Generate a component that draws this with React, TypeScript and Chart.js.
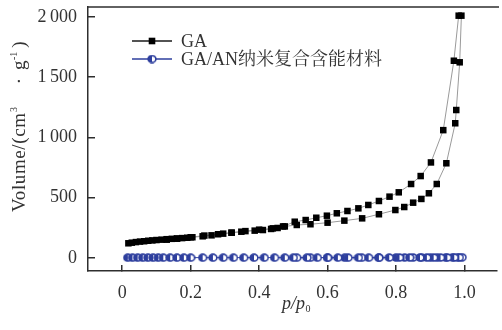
import { useEffect, useRef } from "react";
import { Chart, registerables } from "chart.js";

Chart.register(...registerables);

const seriesNames = ["GA", "GA/AN纳米复合含能材料"];

// GA adsorption branch (p/p0, volume)
const adsX = [0.018, 0.028, 0.04, 0.052, 0.064, 0.076, 0.088, 0.1, 0.115, 0.13, 0.145, 0.16, 0.175, 0.19, 0.205, 0.235, 0.261, 0.295, 0.319, 0.348, 0.387, 0.411, 0.435, 0.454, 0.475, 0.51, 0.55, 0.6, 0.649, 0.701, 0.75, 0.798, 0.824, 0.85, 0.874, 0.896, 0.919, 0.947, 0.973, 0.976, 0.986, 0.991];
const adsY = [122, 127, 132, 136, 139, 143, 146, 149, 152, 156, 159, 162, 165, 168, 172, 180, 188, 202, 210, 218, 227, 232, 241, 249, 262, 274, 280, 293, 310, 329, 363, 398, 423, 459, 490, 537, 614, 786, 1118, 1228, 1624, 2011];

// GA desorption branch
const desX = [0.983, 0.969, 0.938, 0.902, 0.872, 0.844, 0.808, 0.781, 0.75, 0.719, 0.69, 0.658, 0.627, 0.598, 0.567, 0.536, 0.504, 0.47, 0.44, 0.4, 0.36, 0.32, 0.28, 0.24, 0.2, 0.16, 0.13];
const desY = [2011, 1637, 1061, 793, 680, 614, 545, 509, 473, 440, 412, 390, 371, 351, 334, 315, 301, 262, 246, 235, 223, 210, 197, 186, 172, 160, 152];

// GA/AN composite (adsorption then desorption)
const anX = [0.016, 0.03, 0.045, 0.06, 0.075, 0.09, 0.105, 0.12, 0.14, 0.16, 0.18, 0.2, 0.235, 0.265, 0.295, 0.325, 0.355, 0.385, 0.415, 0.445, 0.475, 0.51, 0.55, 0.6, 0.65, 0.7, 0.75, 0.8, 0.825, 0.85, 0.875, 0.9, 0.92, 0.945, 0.965, 0.98, 0.993, 0.985, 0.97, 0.95, 0.93, 0.91, 0.89, 0.87, 0.84, 0.81, 0.78, 0.75, 0.72, 0.69, 0.66, 0.63, 0.6, 0.57, 0.54, 0.5];
const anY = [3, 3, 3, 3, 3, 3, 3, 3, 3, 3, 3, 3, 3, 3, 3, 3, 3, 3, 3, 3, 3, 3, 3, 3, 3, 3, 3, 4, 4, 4, 4, 4, 4, 4, 5, 5, 6, 5, 5, 4, 4, 4, 4, 4, 4, 4, 4, 3, 3, 3, 3, 3, 3, 3, 3, 3];

const xTicks = [0, 0.2, 0.4, 0.6, 0.8, 1.0];
const xTickLabels = ["0", "0.2", "0.4", "0.6", "0.8", "1.0"];
const yTicks = [0, 500, 1000, 1500, 2000];
const yTickLabels = ["0", "500", "1\u2009000", "1\u2009500", "2\u2009000"];

const FONT = '"Liberation Serif", "Times New Roman", "Noto Serif CJK SC", "Noto Sans CJK SC", serif';
const AXIS = "#2e2e2e";
const BLUE = "#2e3f9e";
const TEXT = "#333333";

function makeHalfCircle(color: string): HTMLCanvasElement {
  const c = document.createElement("canvas");
  c.width = 10;
  c.height = 9;
  const g = c.getContext("2d")!;
  g.beginPath();
  g.ellipse(5, 4.5, 3.9, 3.4, 0, 0, Math.PI * 2);
  g.fillStyle = "#ffffff";
  g.fill();
  g.lineWidth = 1.6;
  g.strokeStyle = color;
  g.stroke();
  g.beginPath();
  g.ellipse(5, 4.5, 3.9, 3.4, 0, Math.PI / 2, Math.PI * 1.5);
  g.closePath();
  g.fillStyle = color;
  g.fill();
  return c;
}

function noPad(s: any) {
  s.paddingTop = 0;
  s.paddingBottom = 0;
  s.paddingLeft = 0;
  s.paddingRight = 0;
}

export default function App() {
  const ref = useRef<HTMLCanvasElement | null>(null);

  useEffect(() => {
    document.body.style.margin = "0";
    const canvas = ref.current!;
    const halfCircle = makeHalfCircle(BLUE);

    const gaData = [
      ...adsX.map((x, i) => ({ x, y: adsY[i] })),
      ...desX.map((x, i) => ({ x, y: desY[i] })),
    ];
    const anData = anX.map((x, i) => ({ x, y: anY[i] }));

    const overlay = {
      id: "overlay",
      afterDraw(chart: any) {
        const ctx = chart.ctx as CanvasRenderingContext2D;
        const a = chart.chartArea;
        ctx.save();
        // top border
        ctx.strokeStyle = AXIS;
        ctx.lineWidth = 1.5;
        ctx.beginPath();
        ctx.moveTo(a.left - 0.75, a.top);
        ctx.lineTo(a.right + 2, a.top);
        ctx.stroke();

        // legend
        const rows = [
          { y: 41, color: "#1a1a1a", name: seriesNames[0], kind: "rect" },
          { y: 59, color: BLUE, name: seriesNames[1], kind: "circle" },
        ];
        ctx.font = `18px ${FONT}`;
        ctx.textBaseline = "middle";
        for (const r of rows) {
          ctx.strokeStyle = r.color;
          ctx.lineWidth = 1.5;
          ctx.beginPath();
          ctx.moveTo(132, r.y);
          ctx.lineTo(172, r.y);
          ctx.stroke();
          if (r.kind === "rect") {
            ctx.fillStyle = "#000";
            ctx.fillRect(152 - 3.3, r.y - 3.3, 6.6, 6.6);
          } else {
            ctx.drawImage(halfCircle, 152 - 5, r.y - 4.5);
          }
          ctx.fillStyle = TEXT;
          ctx.fillText(r.name, 181, r.y + 1);
        }

        // y title (rotated), pieces placed along the axis
        ctx.save();
        const cy = 114;
        ctx.translate(19, cy);
        ctx.rotate(-Math.PI / 2);
        ctx.textBaseline = "alphabetic";
        ctx.fillStyle = TEXT;
        const big = `19px ${FONT}`;
        const small = `10px ${FONT}`;
        let u = cy - 212;
        ctx.font = big;
        (ctx as any).letterSpacing = "0.6px";
        ctx.fillText("Volume/(cm", u, 6);
        u += ctx.measureText("Volume/(cm").width + 0.5;
        (ctx as any).letterSpacing = "0px";
        ctx.font = small;
        ctx.fillText("3", u, -2);
        ctx.font = big;
        const wd = ctx.measureText("·").width;
        ctx.fillText("·", cy - 81 - wd / 2, 6);
        let ug = cy - 70;
        ctx.fillText("g", ug, 6);
        ug += ctx.measureText("g").width + 0.5;
        ctx.font = small;
        ctx.fillText("-1", ug, -2);
        ug += ctx.measureText("-1").width + 4;
        ctx.font = big;
        ctx.fillText(")", ug, 6);
        ctx.restore();

        // x title
        ctx.fillStyle = TEXT;
        ctx.textBaseline = "alphabetic";
        ctx.font = `italic 18px ${FONT}`;
        const w1 = ctx.measureText("p/p").width;
        ctx.font = `10px ${FONT}`;
        const w2 = ctx.measureText("0").width;
        const x0 = 296 - (w1 + w2) / 2;
        ctx.font = `italic 18px ${FONT}`;
        ctx.fillText("p/p", x0, 309);
        ctx.font = `10px ${FONT}`;
        ctx.fillText("0", x0 + w1 + 0.5, 312);
        ctx.restore();
      },
    };

    const chart = new Chart(canvas, {
      type: "line",
      data: {
        datasets: [
          {
            label: seriesNames[0],
            data: gaData,
            borderColor: "#9a9a9a",
            borderWidth: 1,
            pointStyle: "rect",
            pointRadius: 4.6,
            pointBackgroundColor: "#000",
            pointBorderColor: "#000",
            pointBorderWidth: 0,
            tension: 0,
          },
          {
            label: seriesNames[1],
            data: anData,
            borderColor: BLUE,
            borderWidth: 1,
            pointStyle: halfCircle as any,
            pointRadius: 4,
            tension: 0,
          },
        ],
      },
      options: {
        animation: false,
        responsive: false,
        maintainAspectRatio: false,
        events: [],
        layout: { padding: { top: 7, right: -5, left: 0, bottom: 0 } },
        plugins: { legend: { display: false }, tooltip: { enabled: false } },
        scales: {
          x: {
            type: "linear",
            min: -0.1,
            max: 1.095,
            afterBuildTicks: (s: any) => {
              s.ticks = xTicks.map((v) => ({ value: v }));
            },
            afterFit: (s: any) => {
              s.height = 59;
              noPad(s);
            },
            grid: { drawOnChartArea: false, tickLength: -6, color: AXIS, lineWidth: 1.5 },
            border: { color: AXIS, width: 1.5 },
            ticks: {
              font: { family: FONT, size: 18 },
              color: TEXT,
              padding: 17,
              maxRotation: 0,
              autoSkip: false,
              callback: (v: any) => xTickLabels[xTicks.indexOf(Number(v))] ?? "",
            },
          },
          y: {
            type: "linear",
            min: -108,
            max: 2083,
            afterBuildTicks: (s: any) => {
              s.ticks = yTicks.map((v) => ({ value: v }));
            },
            afterFit: (s: any) => {
              s.width = 88;
              noPad(s);
            },
            grid: { drawOnChartArea: false, tickLength: -7, color: AXIS, lineWidth: 1.5 },
            border: { color: AXIS, width: 1.5 },
            ticks: {
              font: { family: FONT, size: 18 },
              color: TEXT,
              padding: 18,
              autoSkip: false,
              callback: (v: any) => yTickLabels[yTicks.indexOf(Number(v))] ?? "",
            },
          },
        },
      },
      plugins: [overlay],
    });
    return () => chart.destroy();
  }, []);

  return (
    <div style={{ width: 502, height: 330, background: "#ffffff" }}>
      <canvas ref={ref} width={502} height={330} style={{ display: "block" }} />
    </div>
  );
}
